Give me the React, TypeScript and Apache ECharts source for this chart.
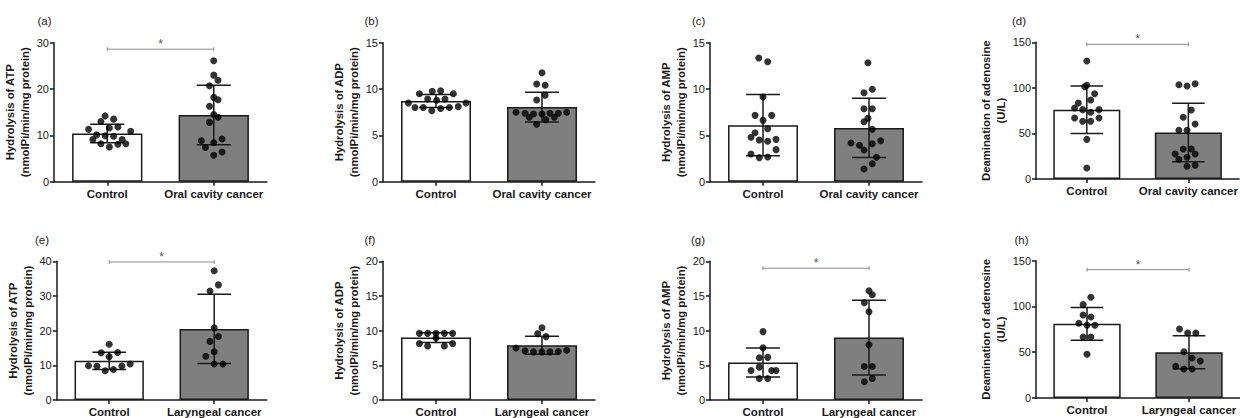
import React, { useEffect, useRef } from "react";
import * as echarts from "echarts";

const FONT = "'Liberation Sans', Arial, Helvetica, sans-serif";

// ---------- categories & labels ----------
const oralCategories = ["Control", "Oral cavity cancer"];
const laryngealCategories = ["Control", "Laryngeal cancer"];
const panelLabels = ["(a)", "(b)", "(c)", "(d)", "(e)", "(f)", "(g)", "(h)"];
const yTitles = [
  "Hydrolysis of ATP\n(nmolPi/min/mg protein)",
  "Hydrolysis of ADP\n(nmolPi/min/mg protein)",
  "Hydrolysis of AMP\n(nmolPi/min/mg protein)",
  "Deamination of adenosine\n(U/L)",
  "Hydrolysis of ATP\n(nmolPi/min/mg protein)",
  "Hydrolysis of ADP\n(nmolPi/min/mg protein)",
  "Hydrolysis of AMP\n(nmolPi/min/mg protein)",
  "Deamination of adenosine\n(U/L)",
];
const yMax = [30, 15, 15, 150, 40, 20, 20, 150];
const yInterval = [10, 5, 5, 50, 10, 5, 5, 50];

// ---------- means and SD: [Control, Cancer] ----------
const aMean = [10.4, 14.4];
const aSD = [2.0, 6.4];
const bMean = [8.7, 8.05];
const bSD = [0.7, 1.6];
const cMean = [6.1, 5.8];
const cSD = [3.3, 3.2];
const dMean = [76, 51];
const dSD = [26, 32];
const eMean = [11.3, 20.5];
const eSD = [2.5, 10];
const fMean = [9.0, 7.9];
const fSD = [0.7, 1.3];
const gMean = [5.4, 9.0];
const gSD = [2.1, 5.4];
const hMean = [81, 50];
const hSD = [18, 18];

// ---------- individual points: [jitter (fraction of category width), value] ----------
const aControlDots = [
  [-0.02, 14.2], [-0.06, 13.0], [0.06, 13.5], [0.02, 11.6], [0.1, 11.8], [-0.175, 11.3],
  [0.22, 10.9], [-0.1, 10.1], [-0.02, 9.9], [0.06, 9.8], [-0.135, 9.1], [0.14, 9.1],
  [-0.06, 8.2], [0.1, 8.1], [0.175, 8.2], [0.02, 7.5],
];
const aCancerDots = [
  [0, 26.1], [0, 23.0], [0.04, 21.9], [-0.04, 20.7], [0, 18.2], [0.04, 17.7], [-0.04, 16.3],
  [0, 14.5], [0.04, 13.9], [-0.04, 12.8], [-0.116, 8.85], [0.078, 9.2], [0, 8.4],
  [-0.078, 7.4], [0.078, 6.4], [0, 5.7],
];
const bControlDots = [
  [-0.157, 9.5], [-0.035, 9.75], [0.044, 9.8], [0.164, 9.5], [-0.079, 8.92], [0.006, 8.78],
  [0.085, 8.92], [-0.26, 8.5], [0.283, 8.5], [-0.198, 8.0], [-0.12, 8.0], [-0.04, 7.66],
  [0.044, 7.9], [0.126, 8.0], [0.21, 8.1],
];
const bCancerDots = [
  [0, 11.76], [-0.05, 10.54], [0.03, 10.4], [0.03, 9.32], [-0.05, 8.82], [-0.245, 7.5],
  [0.233, 7.5], [-0.16, 7.38], [-0.08, 7.3], [0, 7.3], [0.075, 7.38], [0.154, 7.38],
  [-0.12, 6.95], [0.116, 6.95], [-0.05, 6.19], [0.035, 6.7],
];
const cControlDots = [
  [-0.04, 13.35], [0.044, 12.95], [0, 9.14], [-0.075, 7.16], [0.082, 7.16], [0, 6.62],
  [0.044, 5.72], [-0.075, 5.29], [-0.113, 4.79], [-0.035, 4.5], [0.044, 4.36], [0.123, 4.57],
  [0.123, 3.46], [-0.113, 2.99], [-0.035, 2.6], [0.044, 2.67],
];
const cCancerDots = [
  [-0.01, 12.84], [-0.047, 9.6], [0.031, 9.97], [-0.047, 7.88], [0.031, 7.88], [-0.047, 6.47],
  [-0.01, 6.84], [0.031, 5.65], [-0.17, 4.18], [-0.09, 3.93], [0.11, 4.42], [0.031, 4.1],
  [-0.047, 3.42], [0.07, 2.63], [0.031, 1.94], [-0.047, 1.37],
];
const dControlDots = [
  [0, 129.5], [0, 102.8], [-0.02, 101.3], [0.077, 93.6], [0.038, 86.7], [-0.083, 83.4],
  [-0.12, 77.9], [-0.04, 76.1], [0.038, 73.2], [0.12, 76.1], [-0.12, 66.9], [-0.04, 63.3],
  [0.038, 63.3], [0.12, 66.9], [0, 43.5], [0, 12.1],
];
const dCancerDots = [
  [-0.093, 103.5], [-0.013, 102], [0.067, 104.6], [0.029, 75.7], [-0.05, 67.7], [0.067, 60.4],
  [-0.093, 53.4], [-0.013, 53.4], [-0.05, 32.9], [0.029, 32.9], [-0.13, 27.4], [0.067, 27.4],
  [-0.093, 21.6], [-0.013, 23.8], [-0.013, 13.9], [0.067, 15],
];
const eControlDots = [
  [0, 16.1], [-0.076, 13.6], [0.08, 13.7], [0, 12.5], [-0.197, 9.86], [-0.117, 9.7],
  [0.12, 9.8], [0.2, 10.4], [-0.038, 8.43], [0.04, 8.8],
];
const eCancerDots = [
  [0, 37.3], [0.04, 33.2], [-0.04, 31.4], [0, 20.8], [0.04, 18.3], [-0.04, 16.9],
  [0, 13.9], [-0.08, 12.6], [0, 10.4], [0.083, 10.4],
];
const fControlDots = [
  [-0.157, 9.61], [-0.079, 9.61], [0, 9.61], [0.079, 9.61], [0.157, 9.61], [0, 8.95],
  [-0.157, 8.13], [-0.079, 7.8], [0.079, 7.8], [0.157, 8.13],
];
const fCancerDots = [
  [0, 10.43], [-0.04, 9.57], [0.038, 9.14], [-0.245, 7.51], [-0.16, 7.08], [-0.08, 6.94],
  [0, 6.94], [0.075, 6.94], [0.154, 7.0], [0.233, 7.17],
];
const gControlDots = [
  [0, 9.86], [0, 7.52], [-0.035, 6.08], [0.044, 6.15], [-0.035, 4.74], [-0.113, 4.26],
  [0.082, 4.26], [0.123, 4.26], [-0.035, 3.11], [0.044, 3.11],
];
const gCancerDots = [
  [0, 15.74], [0.031, 15.17], [-0.044, 14.02], [0, 12.73], [0, 7.95], [-0.044, 4.84],
  [0.031, 4.84], [0.031, 3.11], [-0.044, 2.64],
];
const hControlDots = [
  [0.038, 110], [-0.038, 102], [-0.038, 90.7], [0.038, 88.5], [-0.08, 81.6], [0, 79.4],
  [0.077, 79.4], [-0.038, 66.6], [0.038, 66.6], [0, 47.7],
];
const hCancerDots = [
  [-0.093, 75.4], [-0.013, 71], [0.067, 71], [-0.05, 50.6], [0.03, 43.7], [0.11, 40.4],
  [-0.13, 34.6], [-0.05, 31.7], [0.03, 31.7],
];

// significance bracket level (null = none)
const sigLevels = [28.6, null, null, 147.8, 39.8, null, 19.0, 140.2];

// ---------- layout (pixels) ----------
const grids = [
  { left: 54, top: 42.7, width: 213, height: 139 },
  { left: 383, top: 42.7, width: 212, height: 139 },
  { left: 710, top: 42.7, width: 212, height: 139 },
  { left: 1036, top: 42.3, width: 206.7, height: 136.7 },
  { left: 56.7, top: 261.3, width: 210, height: 139.4 },
  { left: 383, top: 261.3, width: 212, height: 139.4 },
  { left: 710, top: 261.3, width: 212, height: 139.4 },
  { left: 1036, top: 260.7, width: 206.7, height: 137.3 },
];
const nameGaps = [18.5, 18.8, 17.5, 26, 21, 17.5, 17.5, 26];
const labelPos = [
  { left: 37.5, top: 14.5 },
  { left: 364.5, top: 14.5 },
  { left: 692, top: 14.5 },
  { left: 1012, top: 14.5 },
  { left: 35, top: 233.5 },
  { left: 364.5, top: 233.5 },
  { left: 691, top: 233.5 },
  { left: 1014.5, top: 233.5 },
];

const panels = [
  { cats: oralCategories, mean: aMean, sd: aSD, ctrl: aControlDots, canc: aCancerDots },
  { cats: oralCategories, mean: bMean, sd: bSD, ctrl: bControlDots, canc: bCancerDots },
  { cats: oralCategories, mean: cMean, sd: cSD, ctrl: cControlDots, canc: cCancerDots },
  { cats: oralCategories, mean: dMean, sd: dSD, ctrl: dControlDots, canc: dCancerDots },
  { cats: laryngealCategories, mean: eMean, sd: eSD, ctrl: eControlDots, canc: eCancerDots },
  { cats: laryngealCategories, mean: fMean, sd: fSD, ctrl: fControlDots, canc: fCancerDots },
  { cats: laryngealCategories, mean: gMean, sd: gSD, ctrl: gControlDots, canc: gCancerDots },
  { cats: laryngealCategories, mean: hMean, sd: hSD, ctrl: hControlDots, canc: hCancerDots },
];

const INK = "#1a1a1a";
const BAR_GREY = "#7f7f7f";

function buildOption() {
  const grid: any[] = [];
  const xAxis: any[] = [];
  const yAxis: any[] = [];
  const series: any[] = [];
  const title: any[] = [];

  panels.forEach((p, i) => {
    grid.push({ ...grids[i], containLabel: false });
    title.push({
      text: panelLabels[i],
      left: labelPos[i].left,
      top: labelPos[i].top,
      padding: 0,
      textStyle: { fontSize: 11.5, fontWeight: "normal", color: INK, fontFamily: FONT },
    });
    xAxis[i] = {
      type: "category",
      gridIndex: i,
      data: p.cats,
      axisLine: { show: true, onZero: false, lineStyle: { color: INK, width: 1.5 } },
      axisTick: { show: true, alignWithLabel: true, length: 4, lineStyle: { color: INK, width: 1.5 } },
      axisLabel: {
        interval: 0,
        margin: 6,
        fontSize: 11.5,
        fontWeight: "bold",
        color: INK,
        fontFamily: FONT,
      },
      splitLine: { show: false },
    };
    xAxis[8 + i] = {
      type: "value",
      gridIndex: i,
      min: -0.5,
      max: 1.5,
      show: false,
    };
    yAxis.push({
      type: "value",
      gridIndex: i,
      min: 0,
      max: yMax[i],
      interval: yInterval[i],
      axisLine: { show: true, onZero: false, lineStyle: { color: INK, width: 1.5 } },
      axisTick: { show: true, length: 4, lineStyle: { color: INK, width: 1.5 } },
      axisLabel: { margin: 5, fontSize: 11, color: INK, fontFamily: FONT },
      splitLine: { show: false },
      name: yTitles[i],
      nameLocation: "middle",
      nameRotate: 90,
      nameGap: nameGaps[i],
      nameTextStyle: {
        fontSize: 11.3,
        fontWeight: "bold",
        color: INK,
        fontFamily: FONT,
        lineHeight: 15,
        align: "center",
      },
    });

    // bars (means)
    series.push({
      type: "bar",
      xAxisIndex: i,
      yAxisIndex: i,
      barWidth: "66%",
      z: 2,
      itemStyle: { borderColor: INK, borderWidth: 1.5 },
      data: [
        { value: p.mean[0], itemStyle: { color: "#ffffff" } },
        { value: p.mean[1], itemStyle: { color: BAR_GREY } },
      ],
    });

    // error bars (mean ± SD)
    series.push({
      type: "custom",
      xAxisIndex: i,
      yAxisIndex: i,
      z: 3,
      encode: { x: 0, y: 1 },
      data: [
        [0, p.mean[0], p.sd[0]],
        [1, p.mean[1], p.sd[1]],
      ],
      renderItem: (params: any, api: any) => {
        const x = api.value(0);
        const m = api.value(1);
        const s = api.value(2);
        const top = api.coord([x, m + s]);
        const bot = api.coord([x, m - s]);
        const half = api.size([1, 0])[0] * 0.16;
        const st = { stroke: INK, lineWidth: 1.5 };
        return {
          type: "group",
          children: [
            { type: "line", shape: { x1: top[0], y1: top[1], x2: bot[0], y2: bot[1] }, style: st },
            { type: "line", shape: { x1: top[0] - half, y1: top[1], x2: top[0] + half, y2: top[1] }, style: st },
            { type: "line", shape: { x1: bot[0] - half, y1: bot[1], x2: bot[0] + half, y2: bot[1] }, style: st },
          ],
        };
      },
    });

    // individual points
    series.push({
      type: "scatter",
      xAxisIndex: 8 + i,
      yAxisIndex: i,
      z: 4,
      symbol: "circle",
      symbolSize: 7,
      itemStyle: { color: "#000" },
      data: [
        ...p.ctrl.map((d) => [d[0], d[1]]),
        ...p.canc.map((d) => [1 + d[0], d[1]]),
      ],
    });

    // significance bracket
    const lvl = sigLevels[i];
    if (lvl !== null) {
      series.push({
        type: "custom",
        xAxisIndex: i,
        yAxisIndex: i,
        z: 5,
        clip: false,
        encode: { x: 0, y: 1 },
        data: [[0, lvl]],
        renderItem: (params: any, api: any) => {
          const v = api.value(1);
          const a = api.coord([0, v]);
          const b = api.coord([1, v]);
          const st = { stroke: "#8a8a8a", lineWidth: 1 };
          return {
            type: "group",
            children: [
              { type: "line", shape: { x1: a[0], y1: a[1], x2: b[0], y2: a[1] }, style: st },
              { type: "line", shape: { x1: a[0], y1: a[1] - 2, x2: a[0], y2: a[1] + 2 }, style: st },
              { type: "line", shape: { x1: b[0], y1: a[1] - 2, x2: b[0], y2: a[1] + 2 }, style: st },
              {
                type: "text",
                style: {
                  text: "*",
                  x: (a[0] + b[0]) / 2,
                  y: a[1] + 1,
                  align: "center",
                  verticalAlign: "bottom",
                  fontSize: 12,
                  fontFamily: FONT,
                  fill: "#555",
                },
              },
            ],
          };
        },
      });
    }
  });

  return {
    animation: false,
    backgroundColor: "#ffffff",
    title,
    grid,
    xAxis,
    yAxis,
    series,
  };
}

export default function App() {
  const ref = useRef<HTMLDivElement>(null);
  useEffect(() => {
    if (!ref.current) return;
    const chart = echarts.init(ref.current, undefined, { renderer: "svg" });
    chart.setOption(buildOption() as any);
    return () => chart.dispose();
  }, []);
  return (
    <div
      ref={ref}
      style={{ position: "absolute", left: 0, top: 0, width: 1240, height: 418, background: "#fff" }}
    />
  );
}
